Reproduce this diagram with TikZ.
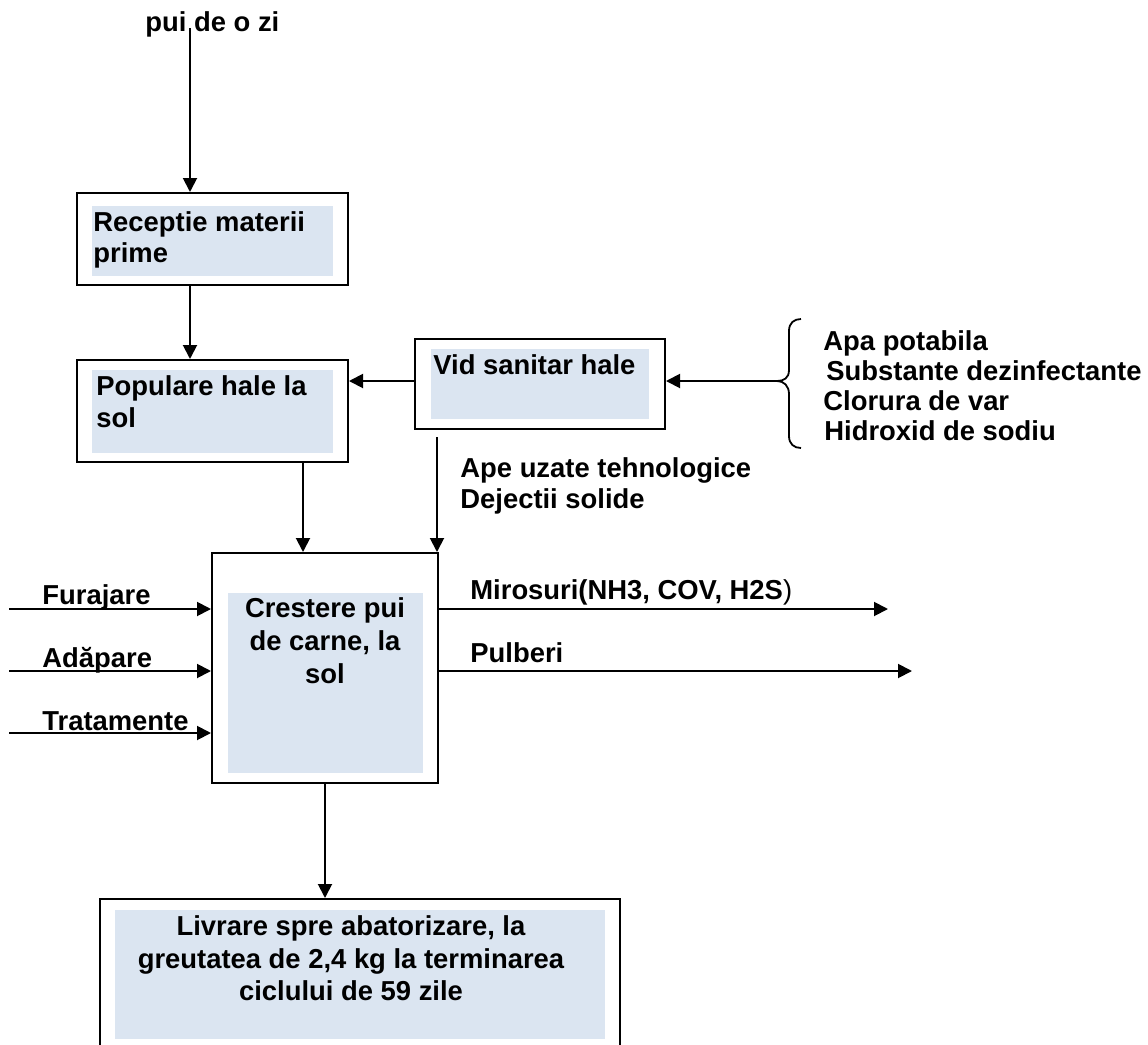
\documentclass[tikz,border=0pt]{standalone}
\usepackage{fontspec}
\setmainfont{Liberation Sans}
\usetikzlibrary{arrows.meta,fit}
\definecolor{boxfill}{RGB}{219,229,241}
\begin{document}
\begin{tikzpicture}[x=0.5pt,y=-0.5pt,
  outerbox/.style={draw=black, line width=1pt, inner sep=0pt, fill=white},
  innerfill/.style={fill=boxfill, draw=none, inner sep=0pt},
  lbl/.style={font=\fontsize{13.7}{15.5}\selectfont\bfseries, inner sep=0pt, anchor=base west},
  clbl/.style={lbl, anchor=base},
  arr/.style={line width=0.95pt, -{Triangle[length=7pt,width=7pt]}},
]
\useasboundingbox (0,0) rectangle (1148,1045);
\clip (0,0) rectangle (1148,1045);
\fill[white] (0,0) rectangle (1148,1045);

% Receptie
\node[outerbox, fit={(77,193) (348,285)}] (rec) {};
\node[innerfill, fit={(92,206) (333,276)}] (recf) {};
\node[lbl] (rect1) at (93,231) {Receptie materii};
\node[lbl] (rect2) at (93,262) {prime};

% Populare
\node[outerbox, fit={(77,360) (348,462)}] (pop) {};
\node[innerfill, fit={(92,370) (333,453)}] (popf) {};
\node[lbl] (popt1) at (96,395) {Populare hale la};
\node[lbl] (popt2) at (96,427) {sol};

% Vid sanitar
\node[outerbox, fit={(415,339) (665,429)}] (vid) {};
\node[innerfill, fit={(431,349) (649,419)}] (vidf) {};
\node[lbl] (vidt) at (433,374) {Vid sanitar hale};

% Crestere
\node[outerbox, fit={(212,553) (438,783)}] (cre) {};
\node[innerfill, fit={(228,593) (423,773)}] (cref) {};
\node[clbl] (cret1) at (325,617) {Crestere pui};
\node[clbl] (cret2) at (325,650) {de carne, la};
\node[clbl] (cret3) at (325,683) {sol};

% Livrare
\node[outerbox, fit={(100,899) (620,1060)}] (liv) {};
\node[innerfill, fit={(115,910) (605,1039)}] (livf) {};
\node[clbl] (livt1) at (351,935) {Livrare spre abatorizare, la};
\node[clbl] (livt2) at (351,968) {greutatea de 2,4 kg la terminarea};
\node[clbl] (livt3) at (351,1000) {ciclului de 59 zile};

% top input
\node[lbl] (pui) at (145,31) {pui de o zi};
\coordinate (puistart) at (190,28);
\draw[arr] (puistart) -- (puistart |- rec.north);
\draw[arr] (rec.south -| puistart) -- (pop.north -| puistart);

% brace and its items
\coordinate (brtip) at (777,381);
\draw[line width=0.9pt] (801,319) .. controls (794,319) and (789,323) .. (789,331) -- (789,370)
  .. controls (789,378) and (784,381) .. (brtip)
  .. controls (784,381) and (789,386) .. (789,394) -- (789,436)
  .. controls (789,444) and (794,448) .. (801,448);
\node[lbl] (it1) at (823,350) {Apa potabila};
\node[lbl] (it2) at (826,380) {Substante dezinfectante};
\node[lbl] (it3) at (823,410) {Clorura de var};
\node[lbl] (it4) at (824,440) {Hidroxid de sodiu};

\draw[arr] (brtip) -- (vid.east |- brtip);
\draw[arr] (vid.west |- brtip) -- (pop.east |- brtip);

% down to Crestere
\coordinate (c303) at (303,500);
\draw[arr] (pop.south -| c303) -- (cre.north -| c303);
\coordinate (vidout) at (437,437);
\draw[arr] (vidout) -- (vidout |- cre.north);
\node[lbl] (ape1) at (460,477) {Ape uzate tehnologice};
\node[lbl] (ape2) at (460,508) {Dejectii solide};

% inputs
\coordinate (inF) at (9,609);
\coordinate (inA) at (9,671);
\coordinate (inT) at (9,733);
\draw[arr] (inF) -- (inF -| cre.west);
\draw[arr] (inA) -- (inA -| cre.west);
\draw[arr] (inT) -- (inT -| cre.west);
\node[lbl] (lF) at (42,604) {Furajare};
\node[lbl] (lA) at (42,667) {Adăpare};
\node[lbl] (lT) at (42,730) {Tratamente};

% outputs
\coordinate (outM) at (888,609);
\coordinate (outP) at (912,671);
\draw[arr] (outM -| cre.east) -- (outM);
\draw[arr] (outP -| cre.east) -- (outP);
\node[lbl] (lM) at (470,599) {Mirosuri(NH3, COV, H2S{\mdseries )}};
\node[lbl] (lP) at (470,662) {Pulberi};

% to Livrare
\draw[arr] (cre.south) -- (cre.south |- liv.north);
\end{tikzpicture}
\end{document}
